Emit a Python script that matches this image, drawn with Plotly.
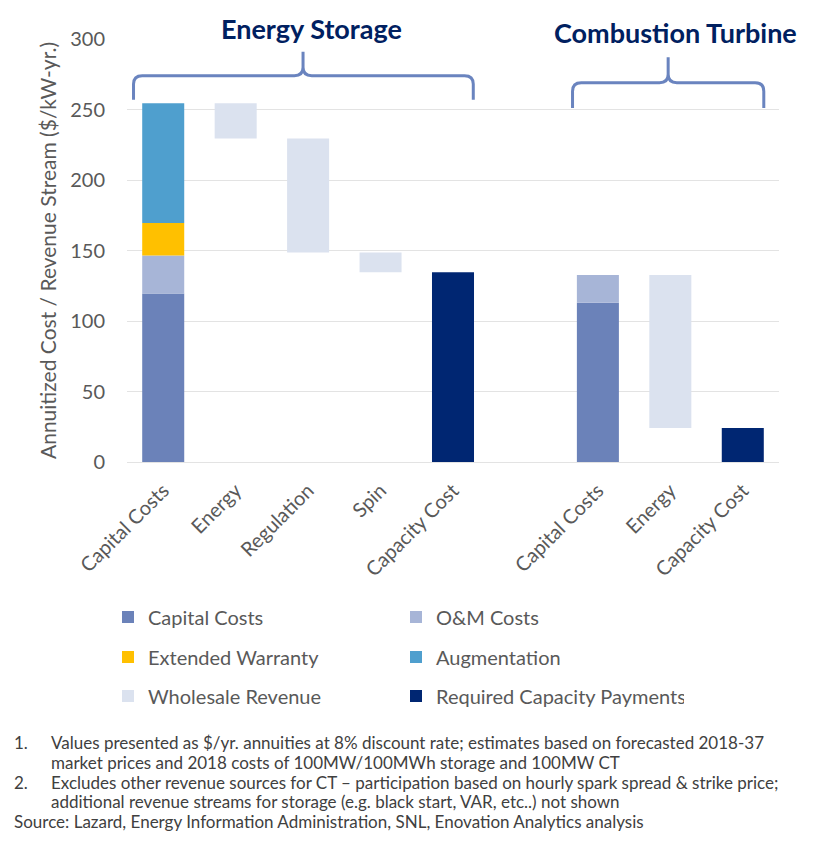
import plotly.graph_objects as go

# categories along the x axis ("" = gap between the two groups)
categories = ["Capital Costs", "Energy", "Regulation", "Spin", "Capacity Cost",
              "", "Capital Costs", "Energy", "Capacity Cost"]

# Energy storage cost stack ($/kW-yr.)
es_capital = 119.5
es_om = 27.0
es_warranty = 23.0
es_augmentation = 85.0
# Energy storage wholesale revenue streams: Energy, Regulation, Spin
es_revenue = [25.0, 81.0, 14.0]

# Combustion turbine
ct_capital = 113.0
ct_om = 19.7
ct_revenue = [108.5]  # Energy

x_es = [0, 1, 2, 3, 4]
x_ct = [6, 7, 8]

COL_CAP = "#6b82b9"
COL_OM = "#a7b5d7"
COL_WAR = "#ffc000"
COL_AUG = "#4f9fce"
COL_REV = "#dbe2ef"
COL_REQ = "#002672"
FONT = "Lato"
GREY = "#595959"

es_total = es_capital + es_om + es_warranty + es_augmentation
ct_total = ct_capital + ct_om

# floating revenue bars (waterfall going down)
rev_x, rev_y, rev_base = [], [], []
level = es_total
for xi, v in zip(x_es[1:4], es_revenue):
    level -= v
    rev_x.append(xi); rev_y.append(v); rev_base.append(level)
es_required = level
level = ct_total
for xi, v in zip(x_ct[1:2], ct_revenue):
    level -= v
    rev_x.append(xi); rev_y.append(v); rev_base.append(level)
ct_required = level

# plotly joins tick labels by text, so repeated labels need to differ invisibly
ticktext, seen = [], {}
for c in categories:
    seen[c] = seen.get(c, 0) + 1
    ticktext.append(c + "\u200b" * (seen[c] - 1))

W = 0.58
fig = go.Figure()
fig.add_trace(go.Bar(x=[x_es[0], x_ct[0]], y=[es_capital, ct_capital], base=[0, 0],
                     name="Capital Costs", marker_color=COL_CAP, width=W, legend="legend"))
fig.add_trace(go.Bar(x=[x_es[0], x_ct[0]], y=[es_om, ct_om], base=[es_capital, ct_capital],
                     name="O&M Costs", marker_color=COL_OM, width=W, legend="legend"))
fig.add_trace(go.Bar(x=[x_es[0]], y=[es_warranty], base=[es_capital + es_om],
                     name="Extended Warranty", marker_color=COL_WAR, width=W, legend="legend2"))
fig.add_trace(go.Bar(x=[x_es[0]], y=[es_augmentation], base=[es_capital + es_om + es_warranty],
                     name="Augmentation", marker_color=COL_AUG, width=W, legend="legend2"))
fig.add_trace(go.Bar(x=rev_x, y=rev_y, base=rev_base,
                     name="Wholesale Revenue", marker_color=COL_REV, width=W, legend="legend3"))
fig.add_trace(go.Bar(x=[x_es[4], x_ct[2]], y=[es_required, ct_required], base=[0, 0],
                     name="Required Capacity Payments", marker_color=COL_REQ, width=W, legend="legend3"))
fig.update_traces(marker_line_width=0)

# page has an 8px body margin; plot area on screen spans x 127..779, y 39..462
OFF = 8
PX0, PX1, PY0, PY1 = 127, 779, 39, 462
FW, FH = 816 - OFF, 851 - OFF
L, T = PX0 - OFF, PY0 - OFF
R, B = FW - (PX1 - OFF), FH - (PY1 - OFF)


def paper_x(px):
    return (px - PX0) / (PX1 - PX0)


def paper_y(py):
    return (PY1 - py) / (PY1 - PY0)


def brace(x0, x1, xm, y_end, y_h, y_tip, rx=0.12, ry=6):
    return (f"M {x0},{y_end} L {x0},{y_h - ry} Q {x0},{y_h} {x0 + rx},{y_h} "
            f"L {xm - rx},{y_h} Q {xm},{y_h} {xm},{y_h + ry} L {xm},{y_tip} "
            f"L {xm},{y_h + ry} Q {xm},{y_h} {xm + rx},{y_h} "
            f"L {x1 - rx},{y_h} Q {x1},{y_h} {x1},{y_h - ry} L {x1},{y_end}")


brace_line = dict(color="#6a84bf", width=3)
fig.add_shape(type="path", xref="x", yref="y", line=brace_line,
              path=brace(-0.41, 4.28, 1.93, 257, 274, 291))
fig.add_shape(type="path", xref="x", yref="y", line=brace_line,
              path=brace(5.65, 8.29, 6.97, 251, 269, 287))

title_font = dict(family=FONT, size=27, color="#002060", weight="bold")
fig.add_annotation(x=paper_x(311), y=paper_y(28), xref="paper", yref="paper",
                   xanchor="center", yanchor="middle",
                   text="<b>Energy Storage</b>", showarrow=False, font=title_font)
fig.add_annotation(x=paper_x(675), y=paper_y(33), xref="paper", yref="paper",
                   xanchor="center", yanchor="middle",
                   text="<b>Combustion Turbine</b>", showarrow=False, font=title_font)

notes = [
    (12, 742, "1."),
    (49, 742, "Values presented as $/yr. annuities at 8% discount rate; estimates based on forecasted 2018-37"),
    (49, 762, "market prices and 2018 costs of 100MW/100MWh storage and 100MW CT"),
    (12, 782, "2."),
    (49, 782, "Excludes other revenue sources for CT – participation based on hourly spark spread & strike price;"),
    (49, 801, "additional revenue streams for storage (e.g. black start, VAR, etc..) not shown"),
    (12, 821, "Source: Lazard, Energy Information Administration, SNL, Enovation Analytics analysis"),
]
for nx, ny, txt in notes:
    fig.add_annotation(x=paper_x(nx), y=paper_y(ny), xref="paper", yref="paper",
                       xanchor="left", yanchor="middle", text=txt, showarrow=False,
                       font=dict(family=FONT, size=17, color="#404040"))

leg = dict(orientation="h", x=paper_x(108), xanchor="left", yanchor="middle",
           entrywidth=243, entrywidthmode="pixels", traceorder="normal",
           font=dict(family=FONT, size=20, color=GREY), bgcolor="rgba(0,0,0,0)")

fig.update_layout(
    width=FW, height=FH,
    margin=dict(l=L, r=R, t=T, b=B, autoexpand=False),
    barmode="overlay",
    plot_bgcolor="white", paper_bgcolor="white",
    font=dict(family=FONT, color=GREY),
    legend=dict(leg, y=paper_y(617)),
    legend2=dict(leg, y=paper_y(657)),
    legend3=dict(leg, y=paper_y(696)),
    xaxis=dict(range=[-0.5, 8.5], tickmode="array", tickvals=list(range(len(categories))),
               ticktext=ticktext, tickangle=-45, showgrid=False, zeroline=False,
               showline=False, ticks="", ticklabelstandoff=12,
               tickfont=dict(family=FONT, size=20, color=GREY)),
    yaxis=dict(range=[0, 300], dtick=50, showgrid=True, gridcolor="#e3e3e3", gridwidth=1,
               zeroline=True, zerolinecolor="#e3e3e3", zerolinewidth=1, showline=False,
               ticks="", ticklabelstandoff=21, tickfont=dict(family=FONT, size=20, color=GREY),
               title=dict(text="Annuitized Cost / Revenue Stream ($/kW-yr.)",
                          font=dict(family=FONT, size=21, color=GREY), standoff=7)),
)

fig.write_html("out.html")
